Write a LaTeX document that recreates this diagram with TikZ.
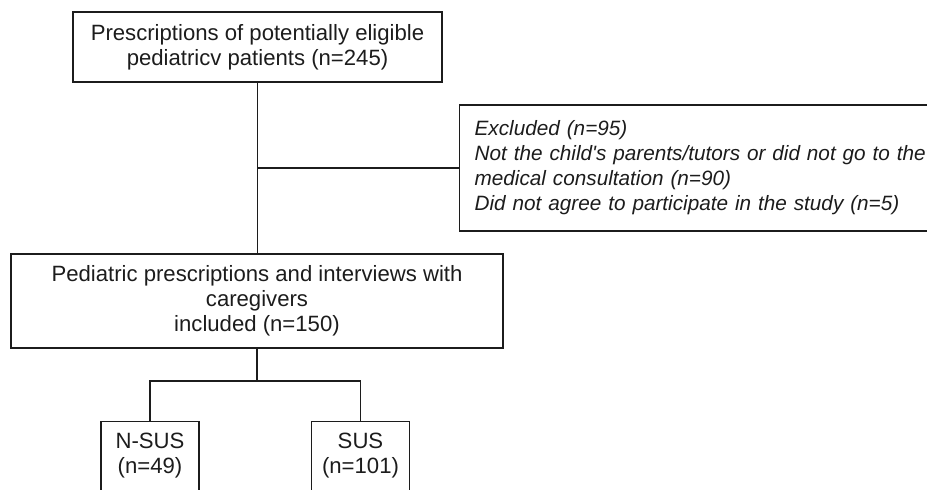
\documentclass[tikz,border=0pt]{standalone}
\usepackage{fontspec}
\setmainfont{Liberation Sans}
\definecolor{chartline}{HTML}{1C1C1C}
\definecolor{charttext}{HTML}{1C1C1C}

\begin{document}
\begin{tikzpicture}[x=0.02cm, y=-0.02cm,
  flowbox/.style={draw=chartline, line width=0.75pt, text=charttext, align=center, inner sep=0pt, font=\fontsize{12.6}{14.2}\selectfont},
  armbox/.style={flowbox, anchor=north, inner xsep=0pt, inner ysep=0.22cm, minimum width=1.96cm},
  link/.style={draw=chartline, line width=0.75pt}]
\clip (0,0) rectangle (927,490);

\node[flowbox, minimum width=7.38cm, minimum height=1.4cm] (eligible) at (257.5,47) {Prescriptions of potentially eligible\\pediatricv patients (n=245)};
\node[flowbox, anchor=west, align=left, text width=9.6cm, inner xsep=0.31cm, minimum height=2.52cm, font=\fontsize{11.8}{14.2}\selectfont\itshape] (excluded) at (458.5,168) {Excluded (n=95)\\Not the child\textquotesingle s parents/tutors or did not go to the\\medical consultation (n=90)\\Did not agree to participate in the study (n=5)};
\node[flowbox, minimum width=9.84cm, minimum height=1.88cm] (included) at (257,301) {Pediatric prescriptions and interviews with\\caregivers\\included (n=150)};
\node[armbox] (nsus) at (150,421) {N-SUS\\(n=49)\rule[-0.4cm]{0pt}{0.4cm}};
\node[armbox] (sus) at (360.5,421) {SUS\\(n=101)\rule[-0.4cm]{0pt}{0.4cm}};
\coordinate (split) at (257,381);

\draw[link] (eligible.south) -- (eligible.south |- included.north);
\draw[link] (eligible.south |- excluded.west) -- (excluded.west);
\draw[link] (included.south) -- (split);
\draw[link] (split) -| (nsus.north);
\draw[link] (split) -| (sus.north);
\end{tikzpicture}
\end{document}
